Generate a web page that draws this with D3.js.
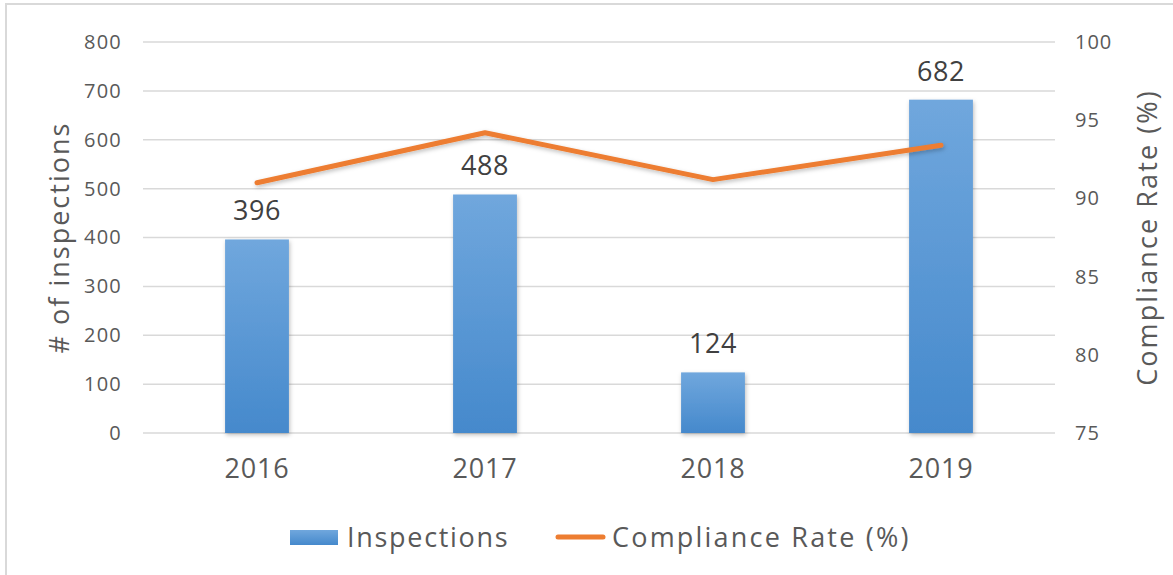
<!DOCTYPE html>
<html>
<head>
<meta charset="utf-8">
<script src="https://cdn.jsdelivr.net/npm/d3@7"></script>
<style>
  body { margin: 0; background: #fff; }
  svg { display: block; font-family: "Open Sans", Lato, sans-serif; font-weight: 400; }
</style>
</head>
<body>
<svg id="chart" width="1173" height="575"></svg>
<script>
// --- data
const years = ['2016', '2017', '2018', '2019'];
const inspections = [396, 488, 124, 682];
const compliance = [91.0, 94.2, 91.2, 93.4];
const leftTicks = [0, 100, 200, 300, 400, 500, 600, 700, 800];
const rightTicks = [75, 80, 85, 90, 95, 100];

const width = 1173, height = 575;
const margin = {top: 42, right: 118, bottom: 142, left: 143};
const FONT = '"Open Sans", Lato, sans-serif';
const svg = d3.select('#chart');

// frame
svg.append('rect')
  .attr('x', 6).attr('y', 4)
  .attr('width', width + 10).attr('height', height + 10)
  .attr('fill', 'none').attr('stroke', '#d9d9d9').attr('stroke-width', 2);

const x = d3.scaleBand().domain(years)
  .range([margin.left, width - margin.right])
  .paddingInner(0.72).paddingOuter(0.36);
const yL = d3.scaleLinear().domain([0, 800]).range([height - margin.bottom, margin.top]);
const yR = d3.scaleLinear().domain([75, 100]).range([height - margin.bottom, margin.top]);

const defs = svg.append('defs');
const grad = defs.append('linearGradient').attr('id', 'barGrad')
  .attr('x1', 0).attr('y1', 0).attr('x2', 0).attr('y2', 1);
grad.append('stop').attr('offset', '0%').attr('stop-color', '#70a7dd');
grad.append('stop').attr('offset', '100%').attr('stop-color', '#4589cc');
const shadow = defs.append('filter').attr('id', 'shadow')
  .attr('x', '-20%').attr('y', '-20%').attr('width', '140%').attr('height', '140%');
shadow.append('feDropShadow').attr('dx', 1).attr('dy', 2).attr('stdDeviation', 2)
  .attr('flood-color', '#000').attr('flood-opacity', 0.25);

// gridlines
svg.append('g').selectAll('line').data(leftTicks).join('line')
  .attr('x1', margin.left).attr('x2', width - margin.right)
  .attr('y1', d => yL(d)).attr('y2', d => yL(d))
  .attr('stroke', '#d9d9d9').attr('stroke-width', 1.5);

// left axis
const axL = svg.append('g').attr('transform', `translate(${margin.left},0)`)
  .call(d3.axisLeft(yL).tickValues(leftTicks).tickSize(0).tickPadding(21));
axL.select('.domain').remove();
axL.selectAll('text').attr('font-size', 20).attr('fill', '#595959')
  .attr('font-family', FONT).attr('letter-spacing', 1.2);

// right axis
const axR = svg.append('g').attr('transform', `translate(${width - margin.right},0)`)
  .call(d3.axisRight(yR).tickValues(rightTicks).tickSize(0).tickPadding(20));
axR.select('.domain').remove();
axR.selectAll('text').attr('font-size', 20).attr('fill', '#595959')
  .attr('font-family', FONT).attr('letter-spacing', 1);

// bottom axis
const axB = svg.append('g').attr('transform', `translate(0,${yL(0)})`)
  .call(d3.axisBottom(x).tickSize(0).tickPadding(26));
axB.select('.domain').remove();
axB.selectAll('text').attr('font-size', 27).attr('fill', '#595959')
  .attr('font-family', FONT).attr('letter-spacing', 0.8);

// bars
svg.append('g').selectAll('rect').data(inspections).join('rect')
  .attr('x', (d, i) => x(years[i]))
  .attr('width', x.bandwidth())
  .attr('y', d => yL(d))
  .attr('height', d => yL(0) - yL(d))
  .attr('fill', 'url(#barGrad)')
  .attr('filter', 'url(#shadow)');

// bar labels
svg.append('g').selectAll('text').data(inspections).join('text')
  .attr('x', (d, i) => x(years[i]) + x.bandwidth() / 2)
  .attr('y', d => yL(d) - 19)
  .attr('text-anchor', 'middle')
  .attr('font-size', 27).attr('fill', '#404040').attr('letter-spacing', 0.5)
  .text(d => d);

// compliance line
const line = d3.line()
  .x((d, i) => x(years[i]) + x.bandwidth() / 2)
  .y(d => yR(d));
svg.append('path').datum(compliance)
  .attr('d', line)
  .attr('fill', 'none').attr('stroke', '#ed7d31')
  .attr('stroke-width', 5).attr('stroke-linecap', 'round').attr('stroke-linejoin', 'round')
  .attr('filter', 'url(#shadow)');

// axis titles
svg.append('text')
  .attr('transform', `translate(69,${(yL(0) + yL(800)) / 2}) rotate(-90)`)
  .attr('text-anchor', 'middle').attr('font-size', 27).attr('fill', '#595959')
  .attr('letter-spacing', 2)
  .text('# of inspections');
svg.append('text')
  .attr('transform', `translate(1157,${(yL(0) + yL(800)) / 2}) rotate(-90)`)
  .attr('text-anchor', 'middle').attr('font-size', 27).attr('fill', '#595959')
  .attr('letter-spacing', 2.1)
  .text('Compliance Rate (%)');

// legend
const lg = svg.append('g').attr('transform', 'translate(0,537)');
lg.append('rect').attr('x', 290).attr('y', -7).attr('width', 48).attr('height', 15)
  .attr('fill', 'url(#barGrad)');
lg.append('text').attr('x', 347).attr('y', 10).attr('font-size', 27).attr('fill', '#595959')
  .attr('letter-spacing', 1.7)
  .text('Inspections');
lg.append('line').attr('x1', 558).attr('x2', 603).attr('y1', 0).attr('y2', 0)
  .attr('stroke', '#ed7d31').attr('stroke-width', 5).attr('stroke-linecap', 'round');
lg.append('text').attr('x', 612).attr('y', 10).attr('font-size', 27).attr('fill', '#595959')
  .attr('letter-spacing', 2.2)
  .text('Compliance Rate (%)');
</script>
</body>
</html>
